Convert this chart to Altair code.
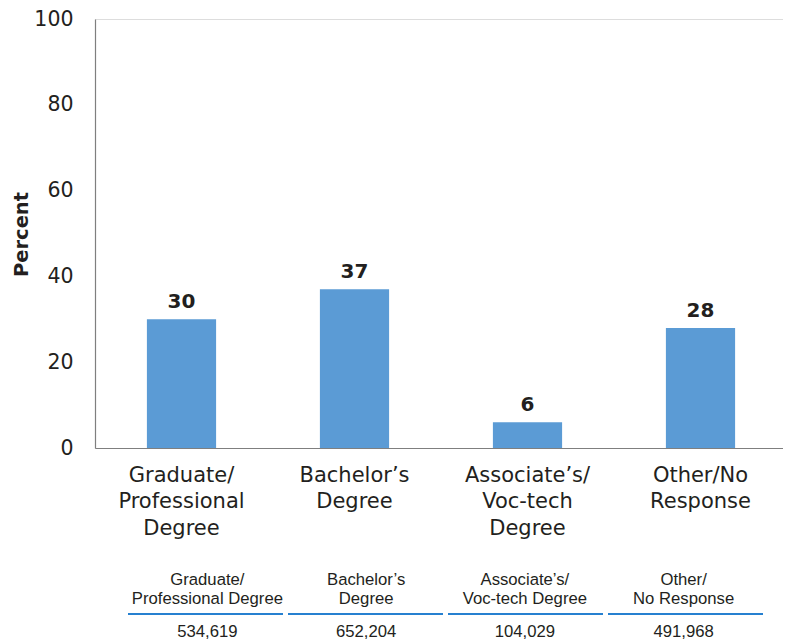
import altair as alt
import pandas as pd

# ---- data ----
categories = [
    "Graduate/Professional Degree",
    "Bachelor’s Degree",
    "Associate’s/Voc-tech Degree",
    "Other/No Response",
]
axis_label_lines = [
    ["Graduate/", "Professional", "Degree"],
    ["Bachelor’s", "Degree"],
    ["Associate’s/", "Voc-tech", "Degree"],
    ["Other/No", "Response"],
]
percent = [30, 37, 6, 28]
table_header_lines = [
    ["Graduate/", "Professional Degree"],
    ["Bachelor’s", "Degree"],
    ["Associate’s/", "Voc-tech Degree"],
    ["Other/", "No Response"],
]
counts = [534619, 652204, 104029, 491968]

bars_df = pd.DataFrame({"Category": categories, "Percent": percent})
table_df = pd.DataFrame({
    "Category": categories,
    "Header": table_header_lines,
    "Count": counts,
})

# ---- styling ----
W, H = 688, 429
MAIN_FONT = "DejaVu Sans"
TABLE_FONT = "Liberation Sans"
TXT = "#231f20"
BAR = "#5b9bd5"
LINE_BLUE = "#2680d0"

label_map = "{" + ", ".join(
    "'" + c + "': [" + ", ".join("'" + s + "'" for s in lines) + "]"
    for c, lines in zip(categories, axis_label_lines)
) + "}"

x_main = alt.Scale(domain=categories, range=[0, 692], paddingInner=0.6, paddingOuter=0.3)
y_main = alt.Scale(domain=[0, 100], nice=False)

bars = alt.Chart(bars_df).mark_bar(color=BAR).encode(
    x=alt.X(
        "Category:N", sort=categories, scale=x_main, title=None,
        axis=alt.Axis(
            labelAngle=0, labelExpr=label_map + "[datum.value]",
            labelFont=MAIN_FONT, labelFontSize=21, labelLineHeight=26.5,
            labelColor=TXT, labelPadding=16, labelBaseline="top",
            ticks=False, tickSize=0, domainColor="#7f7f7f", domainWidth=1.2,
            grid=False, labelLimit=400,
        ),
    ),
    y=alt.Y(
        "Percent:Q", scale=y_main, title="Percent",
        axis=alt.Axis(
            values=[0, 20, 40, 60, 80, 100], labelFont=MAIN_FONT,
            labelFontSize=20.5, labelColor=TXT, labelPadding=22,
            ticks=False, tickSize=0, domainColor="#7f7f7f", domainWidth=1.2,
            grid=False, titleFont=MAIN_FONT, titleFontSize=19.5,
            titleFontWeight="bold", titleColor=TXT,
            titleAngle=270, titleX=-68, titleY=215, titleAlign="center",
            titleBaseline="alphabetic",
        ),
    ),
)

bar_labels = alt.Chart(bars_df).mark_text(
    font=MAIN_FONT, fontSize=20, fontWeight="bold", color=TXT,
    dy=-11, baseline="alphabetic",
).encode(
    x=alt.X("Category:N", sort=categories, scale=x_main, axis=None),
    y=alt.Y("Percent:Q", scale=y_main, axis=None),
    text=alt.Text("Percent:Q"),
)

x_tbl = alt.Scale(domain=categories, range=[33, 668], paddingInner=0.03125, paddingOuter=0)
y_tbl = alt.Scale(type="point", domain=["header", "rule", "count"], range=[561, 629], padding=0)

tbl_base = alt.Chart(table_df)

tbl_header = tbl_base.mark_text(
    font=TABLE_FONT, fontSize=16.7, lineHeight=19, color=TXT,
    baseline="middle",
).transform_calculate(row="'header'").encode(
    x=alt.X("Category:N", sort=categories, scale=x_tbl, axis=None),
    y=alt.Y("row:N", scale=y_tbl, axis=None),
    text=alt.Text("Header"),
)

tbl_rule = tbl_base.mark_bar(color=LINE_BLUE, height=2).transform_calculate(
    row="'rule'"
).encode(
    x=alt.X("Category:N", sort=categories, scale=x_tbl, axis=None),
    y=alt.Y("row:N", scale=y_tbl, axis=None),
)

tbl_count = tbl_base.mark_text(
    font=TABLE_FONT, fontSize=16.7, color=TXT, baseline="middle", dy=-16,
).transform_calculate(row="'count'").encode(
    x=alt.X("Category:N", sort=categories, scale=x_tbl, axis=None),
    y=alt.Y("row:N", scale=y_tbl, axis=None),
    text=alt.Text("Count:Q", format=",d"),
)

chart = alt.layer(
    bars, bar_labels, tbl_header, tbl_rule, tbl_count
).resolve_scale(
    x="independent", y="independent"
).properties(
    width=W, height=H,
    autosize=alt.AutoSizeParams(type="none"),
    padding={"left": 87, "top": 11, "right": 0, "bottom": 194},
).configure_view(strokeWidth=0, stroke="transparent").configure(background="white")

chart.save("out.html", embed_options={"renderer": "svg", "actions": False})
